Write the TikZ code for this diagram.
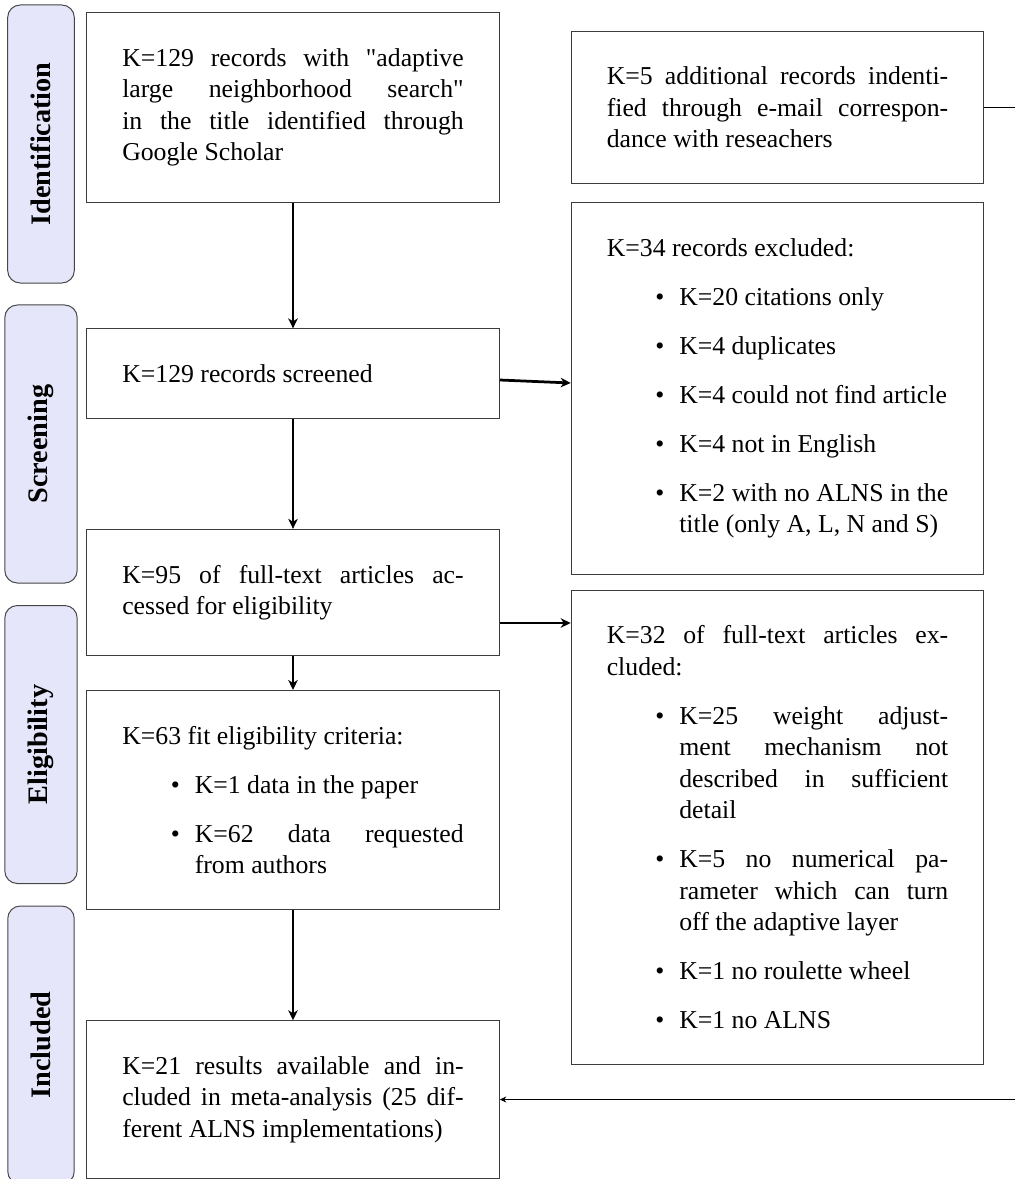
\documentclass[tikz,border=0pt]{standalone}
\usepackage{fontspec}
\setmainfont{Liberation Serif}
\usepackage{xcolor}
\definecolor{phasefill}{RGB}{230, 230, 250}
\definecolor{phaseframe}{RGB}{70, 70, 70}
\definecolor{boxframe}{RGB}{60, 60, 60}
\usetikzlibrary{
    arrows.meta,
    positioning,
    calc
}
\tolerance=9999
\hbadness=10000

% bullet list used inside the boxes
\newenvironment{reasons}{%
  \begin{list}{\textbullet}{%
    \setlength{\leftmargin}{29pt}%
    \setlength{\labelsep}{6pt}%
    \setlength{\labelwidth}{23pt}%
    \setlength{\itemsep}{7pt}%
    \setlength{\parsep}{0pt}%
    \setlength{\topsep}{7pt}%
    \setlength{\partopsep}{0pt}}}%
  {\end{list}}

\tikzstyle{phase} = [
    rectangle,
    rounded corners=5pt,
    draw=phaseframe,
    fill=phasefill,
    rotate=90,
    minimum width=111.2pt,
    inner xsep=0pt,
    inner ysep=9.3pt,
    font=\fontsize{11.3}{13.6}\selectfont\bfseries
]
\tikzstyle{record} = [
    rectangle,
    draw=boxframe,
    text width=4.8cm,
    inner sep=0.5cm,
    align=justify,
    font=\fontsize{10.3}{12.6}\selectfont
]
\tikzstyle{arrow} = [
    -{Stealth[length=4pt, width=3.8pt, inset=1.2pt]},
    line width=1.1pt
]
\tikzstyle{link} = [
    -{Stealth[length=2.6pt, width=2.4pt, inset=0.8pt]}
]

\begin{document}
\begin{tikzpicture}[x=0.4pt, y=-0.4pt]
    \useasboundingbox (0,0) rectangle (1014,1179);

    % Phase labels
    \node[phase] (phIdent) at (41,144) {Identification};
    \node[phase] (phScreen) at (41,444) {Screening};
    \node[phase] (phElig) at (41,744.5) {Eligibility};
    \node[phase] (phIncl) at (41,1045) {Included};

    % Main column
    \node[record, minimum height=75.6pt] (found) at (293,107.5)
        {K=129 records with \textquotedbl adaptive\linebreak large neighborhood search\textquotedbl\linebreak in the title identified through\linebreak Google Scholar};
    \node[record, minimum height=34.8pt] (screened) at (293,373.5)
        {K=129 records screened};
    \node[record, minimum height=50pt] (assessed) at (293,592.5)
        {K=95 of full-text articles ac-\linebreak cessed for eligibility};
    \node[record, minimum height=85.6pt] (eligible) at (293,800)
        {K=63 fit eligibility criteria:
        \begin{reasons}
            \item K=1 data in the paper
            \item K=62 data requested\linebreak from authors
        \end{reasons}};
    \node[record, minimum height=62.8pt] (included) at (293,1099.5)
        {K=21 results available and in-\linebreak cluded in meta-analysis (25 dif-\linebreak ferent ALNS implementations)};

    % Side column
    \node[record, minimum height=60.4pt] (extra) at (777.5,107.5)
        {K=5 additional records indenti-\linebreak fied through e-mail correspon-\linebreak dance with reseachers};
    \node[record, minimum height=145.2pt] (excluded) at (777.5,388.5)
        {K=34 records excluded:
        \begin{reasons}
            \item K=20 citations only
            \item K=4 duplicates
            \item K=4 could not find article
            \item K=4 not in English
            \item K=2 with no ALNS in the\linebreak title (only A, L, N and S)
        \end{reasons}};
    \node[record, minimum height=187.6pt] (removed) at (777.5,827.5)
        {K=32 of full-text articles ex-\linebreak cluded:
        \begin{reasons}
            \item K=25 weight adjust-\linebreak ment mechanism not\linebreak described in sufficient\linebreak detail
            \item K=5 no numerical pa-\linebreak rameter which can turn\linebreak off the adaptive layer
            \item K=1 no roulette wheel
            \item K=1 no ALNS
        \end{reasons}};

    % Flow arrows
    \draw[arrow] (found) -- (screened);
    \draw[arrow] (screened) -- (assessed);
    \draw[arrow] (assessed) -- (eligible);
    \draw[arrow] (eligible) -- (included);

    % Exclusion arrows
    \draw[arrow] ($(screened.east)+(0,6.5)$) -- ($(excluded.west)+(0,-5.5)$);
    \draw[arrow] ($(assessed.east)+(0,30.5)$) coordinate (outA) -- (outA -| removed.west);

    % Extra records route (runs past the right edge)
    \coordinate (rail) at (1040,0);
    \draw[link] (extra.east) -- (extra.east -| rail) |- (included.east);
\end{tikzpicture}
\end{document}
